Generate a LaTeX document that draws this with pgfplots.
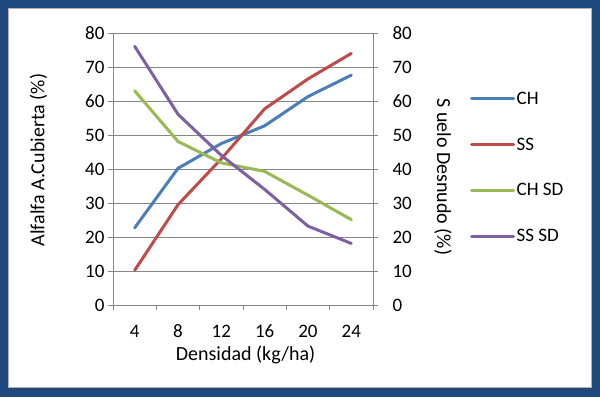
\documentclass[border=0pt]{standalone}
\usepackage{pgfplots}
\pgfplotsset{compat=1.18}
\usepackage{fontspec}
\setmainfont{Carlito}
\definecolor{frameblue}{RGB}{31,73,125}
\definecolor{cCH}{RGB}{74,126,187}
\definecolor{cSS}{RGB}{190,75,72}
\definecolor{cCHSD}{RGB}{152,185,84}
\definecolor{cSSSD}{RGB}{125,96,160}
\definecolor{gridgray}{RGB}{134,134,134}
\newcommand{\tickfont}{\fontsize{19}{22}\selectfont}
\newcommand{\labfont}{\fontsize{20}{24}\selectfont}
\begin{document}
\begin{tikzpicture}[x=1pt,y=1pt]
\fill[frameblue] (0pt,0pt) rectangle (600pt,397pt);
\fill[white] (8pt,10pt) rectangle (591pt,388pt);
\draw[gray!60, line width=1pt] (8pt,10pt) rectangle (591pt,388pt);
\pgfplotsset{
  every axis/.append style={
    /pgf/number format/assume math mode=true,
    ticklabel style={font=\tickfont},
    label style={font=\labfont},
  }
}
\begin{axis}[at={(113pt,92pt)}, anchor=south west, scale only axis,
  width=260pt, height=272pt,
  xmin=-0.5, xmax=5.5, ymin=0, ymax=80, ytick={0,10,...,80},
  xtick={0,...,5}, xticklabels={4,8,12,16,20,24},
  major x tick style={draw=none},
  minor xtick={-0.5,0.5,...,5.5},
  axis x line*=bottom, axis y line*=left,
  axis line style={gridgray, line width=0.8pt, -},
  every tick/.style={gridgray, line width=0.8pt},
  ymajorgrids, grid style={gridgray, line width=0.8pt},
  tick align=outside, major tick length=5pt, minor tick length=5pt,
  xticklabel style={anchor=base, yshift=-27pt},
  xlabel={Densidad (kg/ha)},
  xlabel style={at={(axis description cs:0.51,-0.185)}, anchor=center},
  ylabel={Alfalfa A.Cubierta (\%)},
  ylabel style={at={(axis description cs:-0.2865,0.533)}, anchor=center},
  legend style={draw=none, fill=none, at={(axis description cs:1.373,0.5055)}, anchor=west,
    row sep=29pt, inner sep=0pt, font=\tickfont,
    nodes={inner sep=1.5pt},
    /tikz/every even column/.append style={column sep=0pt}},
  legend cell align=left,
  legend image code/.code={\draw[#1, line width=3pt] (0pt,0pt) -- (42pt,0pt);},
  every axis plot/.append style={line width=3pt, line join=round, line cap=round, mark=none},
]
\addplot[cCH] coordinates {(0,22.7) (1,40.2) (2,47.5) (3,52.7) (4,61.3) (5,67.6)};
\addplot[cSS] coordinates {(0,10.2) (1,29.5) (2,43.0) (3,57.7) (4,66.5) (5,74.0)};
\addplot[cCHSD] coordinates {(0,63.0) (1,48.1) (2,41.8) (3,39.3) (4,32.3) (5,25.1)};
\addplot[cSSSD] coordinates {(0,76.1) (1,56.1) (2,44.0) (3,34.0) (4,23.2) (5,18.1)};
\legend{CH,SS,CH SD,SS SD}
\end{axis}
\begin{axis}[at={(113pt,92pt)}, anchor=south west, scale only axis,
  width=260pt, height=272pt,
  xmin=-0.5, xmax=5.5, ymin=0, ymax=80, ytick={0,10,...,80},
  axis x line=none, axis y line*=right,
  axis line style={gridgray, line width=0.8pt, -},
  every tick/.style={gridgray, line width=0.8pt},
  tick align=center, major tick length=10pt,
  yticklabel style={xshift=11pt},
  ylabel={S uelo Desnudo (\%)},
  ylabel style={at={(axis description cs:1.269,0.471)}, anchor=center, rotate=180},
]
\end{axis}
\pgfresetboundingbox
\useasboundingbox (0pt,0pt) rectangle (600pt,397pt);
\end{tikzpicture}
\end{document}
